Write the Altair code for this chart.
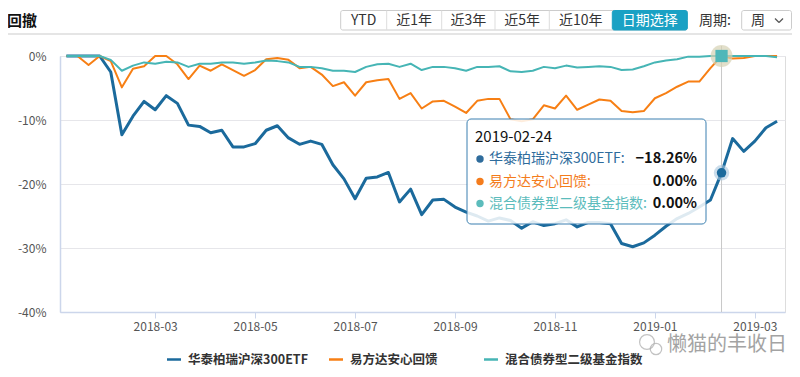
import altair as alt
import pandas as pd

FONT = "Noto Sans CJK SC"

# ---------------- data ----------------
dates = pd.date_range("2018-01-07", periods=65, freq="7D").strftime("%Y-%m-%d").tolist()
series_names = ["华泰柏瑞沪深300ETF", "易方达安心回馈", "混合债券型二级基金指数"]
series_colors = ["#1b6a9c", "#f77f14", "#46b5b5"]
series_widths = [3, 2, 2]

hs300 = [0, 0, 0, 0, -2.5, -12.3, -9.4, -7.1, -8.4, -6.2,
         -7.4, -10.8, -11.0, -12.0, -11.6, -14.2, -14.2, -13.7, -11.6, -10.9,
         -12.8, -13.8, -13.3, -13.8, -17.0, -19.2, -22.3, -19.1, -18.9, -18.2,
         -22.8, -20.8, -24.8, -22.5, -22.4, -23.6, -24.4, -25.0, -25.8, -25.3,
         -25.7, -26.9, -25.9, -26.5, -26.2, -25.6, -26.7, -26.0, -26.0, -26.2,
         -29.3, -29.8, -29.2, -28.0, -26.6, -25.4, -24.6, -23.6, -22.5, -18.26,
         -12.9, -14.9, -13.3, -11.2, -10.2]
efd = [0, 0, -1.4, 0, -0.8, -4.9, -2.0, -1.6, 0, 0,
       -1.3, -3.6, -1.5, -2.3, -1.3, -2.2, -3.1, -2.2, -0.5, -0.3,
       -0.6, -1.9, -1.7, -2.9, -4.7, -4.1, -6.2, -4.1, -3.8, -3.6,
       -6.7, -5.8, -8.2, -7.1, -7.0, -7.9, -8.9, -7.0, -6.7, -6.7,
       -9.9, -10.2, -9.9, -7.7, -8.2, -6.2, -8.4, -7.6, -6.8, -7.0,
       -8.6, -8.8, -8.6, -6.6, -5.8, -4.8, -4.0, -4.0, -1.9, 0,
       -0.4, -0.3, 0, 0, 0]
bond = [0, 0, 0, 0, -0.6, -2.3, -1.5, -1.0, -1.2, -0.9,
        -1.0, -1.7, -1.2, -1.2, -1.0, -1.0, -1.2, -1.0, -0.7, -0.8,
        -1.0, -1.7, -1.7, -1.9, -2.3, -2.3, -2.5, -1.7, -1.3, -1.2,
        -1.7, -1.2, -2.2, -1.7, -1.7, -1.9, -2.3, -1.7, -1.7, -1.6,
        -2.4, -2.5, -2.3, -1.7, -1.9, -1.5, -1.8, -1.7, -1.6, -1.7,
        -2.2, -2.1, -1.6, -1.0, -0.7, -0.5, -0.1, -0.1, 0, 0,
        0, 0, 0, 0, -0.2]
series_values = [hs300, efd, bond]

tick_dates = dates[8::9]
y_ticks = [0, -10, -20, -30, -40]
hover_date = "2019-02-24"
buttons = ["YTD", "近1年", "近3年", "近5年", "近10年", "日期选择"]
title_text = "回撤"
period_label = "周期:"
period_value = "周"
watermark = "懒猫的丰收日"

# ---------------- layout helpers (page px -> plot px) ----------------
OX, OY = 60, 56
W, H = 725, 256


def px(x):
    return x - OX


def py(y):
    return y - OY


def blank():
    return alt.Chart(alt.Data(values=[{}]))


def text(x, y, s, size=12, color="#333", weight="normal", align="left", opacity=1.0):
    return blank().mark_text(text=s, fontSize=size, color=color, fontWeight=weight,
                             align=align, baseline="middle", font=FONT,
                             opacity=opacity).encode(x=alt.value(px(x)), y=alt.value(py(y)))


def rect(x1, y1, x2, y2, fill="white", stroke="#ccc", sw=1, radius=0, fill_opacity=1.0):
    return blank().mark_rect(fill=fill, stroke=stroke, strokeWidth=sw, cornerRadius=radius,
                             fillOpacity=fill_opacity).encode(
        x=alt.value(px(x1)), x2=alt.value(px(x2)), y=alt.value(py(y1)), y2=alt.value(py(y2)))


def seg(x1, y1, x2, y2, color="#ccc", sw=1):
    return blank().mark_rule(color=color, strokeWidth=sw).encode(
        x=alt.value(px(x1)), x2=alt.value(px(x2)), y=alt.value(py(y1)), y2=alt.value(py(y2)))


def to_ms(d):
    return int(pd.Timestamp(d, tz="UTC").timestamp() * 1000)


x_scale = alt.Scale(type="utc", domain=[to_ms("2018-01-03"), to_ms("2019-04-05")])
y_scale = alt.Scale(domain=[-40, 0], nice=False, zero=False)

x_axis = alt.Axis(values=[to_ms(d) for d in tick_dates], format="%Y-%m", title=None,
                  grid=False, domainColor="#ccd6eb", domainWidth=1.5, tickColor="#ccd6eb",
                  tickSize=6, labelPadding=3, labelFontSize=12, labelColor="#555",
                  labelFont=FONT, labelOverlap=False, labelFlush=False)
y_axis = alt.Axis(values=y_ticks, labelExpr="datum.value + '%'", title=None,
                  grid=True, gridColor="#e6e6ea", gridWidth=1.2, domainColor="#ccd6eb",
                  domainWidth=1.5, ticks=False, labelPadding=14, labelFontSize=12,
                  labelColor="#555", labelFont=FONT)

layers = []

# ---------------- header ----------------
HY = 20.5  # vertical centre of header row
BT, BB = 10.5, 30  # button box top / bottom
layers.append(text(7, 21, title_text, size=15, color="#111", weight="bold"))
btn_edges = [340.7, 386.7, 441.7, 495, 549.3, 612.3, 687.3]
layers.append(rect(btn_edges[0], BT, btn_edges[-1], BB, fill="white", stroke="#cccccc", radius=2))
layers.append(rect(btn_edges[5], BT, btn_edges[6], BB, fill="#1aa1c4", stroke="#1aa1c4", radius=2))
for i in range(1, 5):
    layers.append(seg(btn_edges[i], BT, btn_edges[i], BB, color="#dddddd"))
for i, b in enumerate(buttons):
    cx = (btn_edges[i] + btn_edges[i + 1]) / 2
    layers.append(text(cx, HY, b, size=14, color="white" if i == 5 else "#333", align="center"))
layers.append(text(715, HY, period_label, size=14, color="#333", align="center"))
layers.append(rect(741.7, BT, 791.5, BB, fill="white", stroke="#cccccc", radius=2))
layers.append(text(758, HY, period_value, size=14, color="#333", align="center"))
layers.append(seg(775, HY - 2, 779, HY + 2, color="#555", sw=1.2))
layers.append(seg(779, HY + 2, 783, HY - 2, color="#555", sw=1.2))
layers.append(seg(0, 34, 800, 34, color="#cccccc", sw=1.2))

# ---------------- series lines ----------------
for name, vals, col, sw in zip(series_names, series_values, series_colors, series_widths):
    df = pd.DataFrame({"date": dates, "value": vals, "series": name})
    layers.append(alt.Chart(df).mark_line(color=col, strokeWidth=sw, strokeJoin="round").encode(
        x=alt.X("date:T", scale=x_scale, axis=x_axis),
        y=alt.Y("value:Q", scale=y_scale, axis=y_axis)))

# ---------------- hover state ----------------
idx = dates.index(hover_date)
hover_df = pd.DataFrame({"date": [hover_date], "hs300": [hs300[idx]],
                         "efd": [efd[idx]], "bond": [bond[idx]]})
hx = alt.X("date:T", scale=x_scale, axis=x_axis)
layers.append(alt.Chart(hover_df).mark_rule(color="#c8c8c8", strokeWidth=1).encode(
    x=hx, y=alt.value(-10), y2=alt.value(H)))
layers.append(alt.Chart(hover_df).mark_circle(color="#a9c7de", opacity=0.6, size=240).encode(
    x=hx, y=alt.Y("hs300:Q", scale=y_scale, axis=y_axis)))
layers.append(alt.Chart(hover_df).mark_circle(color="#1b6a9c", opacity=1, size=90).encode(
    x=hx, y=alt.Y("hs300:Q", scale=y_scale, axis=y_axis)))
layers.append(alt.Chart(hover_df).mark_circle(color="#d6d1b3", opacity=0.7, size=480).encode(
    x=hx, y=alt.Y("bond:Q", scale=y_scale, axis=y_axis)))
layers.append(alt.Chart(hover_df).mark_square(color="#4fb7b9", opacity=1, size=150).encode(
    x=hx, y=alt.Y("bond:Q", scale=y_scale, axis=y_axis)))

# ---------------- tooltip ----------------
layers.append(rect(467, 119, 706, 224, fill="white", stroke="#3a7fb0", sw=1, radius=4, fill_opacity=0.86))
layers.append(text(475, 137, hover_date, size=15, color="#111"))
row_y = [159, 181.5, 203.5]
tip_colors = ["#2f6c9c", "#f47c1c", "#5cbcbc"]
for name, vals, col, ry in zip(series_names, series_values, tip_colors, row_y):
    layers.append(blank().mark_circle(color=col, size=55, opacity=1).encode(
        x=alt.value(px(480)), y=alt.value(py(ry))))
    layers.append(text(489, ry, name + ":", size=14, color=col))
    layers.append(text(697, ry, f"{vals[idx]:.2f}%".replace("-", "\u2212"), size=14.5,
                       color="#111", weight="bold", align="right"))

# ---------------- legend ----------------
LY = 359.5
legend_x = [167, 329, 484]
for name, col, lx in zip(series_names, series_colors, legend_x):
    layers.append(seg(lx, LY, lx + 14, LY, color=col, sw=2.5))
    layers.append(text(lx + 21, LY, name, size=12.5, color="#333", weight="bold"))

# ---------------- watermark ----------------
layers.append(blank().mark_point(shape="circle", filled=False, color="#aaaaaa", size=220, strokeWidth=1.2).encode(
    x=alt.value(px(647)), y=alt.value(py(342))))
layers.append(blank().mark_point(shape="circle", filled=False, color="#aaaaaa", size=130, strokeWidth=1.2).encode(
    x=alt.value(px(656)), y=alt.value(py(349))))
layers.append(text(667, 345, watermark, size=20, color="#9a9a9a", opacity=0.9))

chart = alt.layer(*layers).properties(
    width=W, height=H,
    autosize=alt.AutoSizeParams(type="none"),
    padding={"left": 52, "top": 48, "right": 7, "bottom": 55},
).configure_view(stroke=None).configure(font=FONT)

chart.save("out.html", embed_options={"renderer": "svg", "actions": False})
